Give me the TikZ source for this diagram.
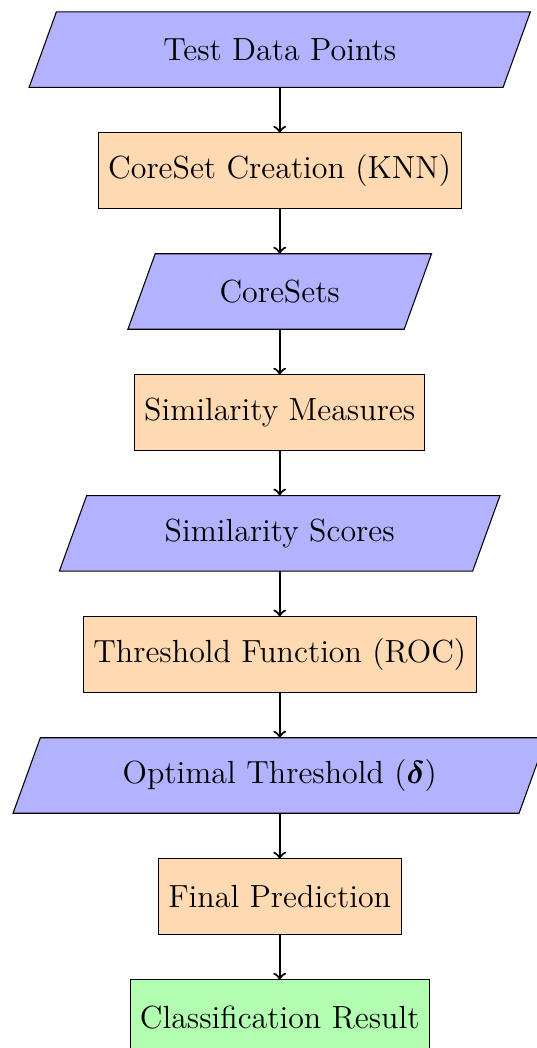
\documentclass[tikz,border=0pt]{standalone}
\usepackage{amsmath}
\usetikzlibrary{backgrounds}
\tikzset{
  base/.style={minimum height=75.5*0.375pt, inner sep=0pt, outer sep=0pt, font=\large, anchor=center},
  procbox/.style={base, draw, fill=orange!30},
  iobox/.style={base},
  resbox/.style={base, draw, fill=green!30},
  iofill/.style={draw, fill=blue!30},
  arr/.style={thick, ->}
}
\begin{document}
\begin{tikzpicture}[x=0.375pt, y=-0.375pt]
\useasboundingbox (0,0) rectangle (537,1048);
\node[iobox, minimum width=474*0.375pt] (tdp) at (279.7,49.7) {Test Data Points};
\node[procbox, minimum width=362.7*0.375pt] (ccr) at (279.7,170.6) {CoreSet Creation (KNN)};
\node[iobox, minimum width=276.3*0.375pt] (cs) at (279.7,291.5) {CoreSets};
\node[procbox, minimum width=290*0.375pt] (sm) at (279.7,412.4) {Similarity Measures};
\node[iobox, minimum width=413.3*0.375pt] (ss) at (279.7,533.3) {Similarity Scores};
\node[procbox, minimum width=393*0.375pt] (tf) at (279.7,654.3) {Threshold Function (ROC)};
\node[iobox, minimum width=506*0.375pt] (ot) at (279.7,775.5) {Optimal Threshold ($\boldsymbol{\delta}$)};
\node[procbox, minimum width=243*0.375pt] (fp) at (279.7,896.5) {Final Prediction};
\node[resbox, minimum width=299*0.375pt] (cr) at (279.7,1017.5) {Classification Result};
\begin{scope}[on background layer]
\foreach \n in {tdp,cs,ss,ot}{
  \draw[iofill] ([xshift=5.12pt]\n.north west) -- ([xshift=5.12pt]\n.north east)
    -- ([xshift=-5.12pt]\n.south east) -- ([xshift=-5.12pt]\n.south west) -- cycle;
}
\end{scope}
\draw[arr] (tdp) -- (ccr);
\draw[arr] (ccr) -- (cs);
\draw[arr] (cs) -- (sm);
\draw[arr] (sm) -- (ss);
\draw[arr] (ss) -- (tf);
\draw[arr] (tf) -- (ot);
\draw[arr] (ot) -- (fp);
\draw[arr] (fp) -- (cr);
\end{tikzpicture}
\end{document}
